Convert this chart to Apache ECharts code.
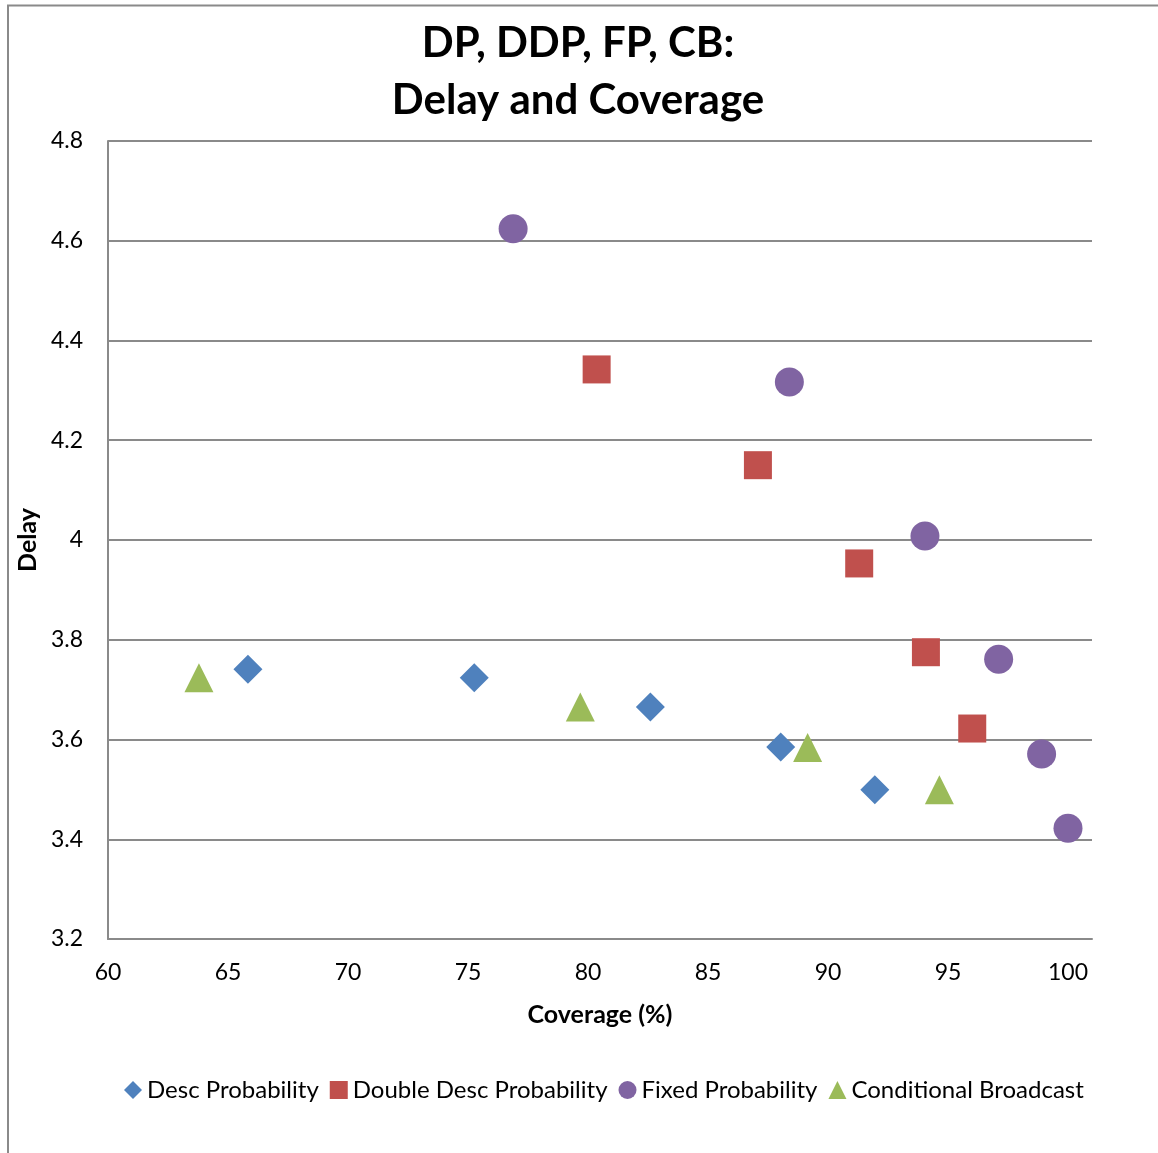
<!DOCTYPE html>
<html>
<head>
<meta charset="utf-8">
<script src="https://cdn.jsdelivr.net/npm/echarts@6/dist/echarts.min.js"></script>
<style>
html,body{margin:0;padding:0;background:#fff;}
#c{width:1158px;height:1153px;}
</style>
</head>
<body>
<div id="c"></div>
<script>
const seriesNames = ['Desc Probability', 'Double Desc Probability', 'Fixed Probability', 'Conditional Broadcast'];
const descX = [65.83, 75.26, 82.6, 88.03, 91.95];
const descY = [3.741, 3.724, 3.665, 3.585, 3.499];
const doubleX = [80.36, 87.08, 91.3, 94.08, 96.01];
const doubleY = [4.342, 4.150, 3.953, 3.775, 3.622];
const fixedX = [76.88, 88.39, 94.04, 97.11, 98.9, 100];
const fixedY = [4.624, 4.317, 4.008, 3.761, 3.571, 3.422];
const condX = [63.79, 79.68, 89.15, 94.64];
const condY = [3.724, 3.665, 3.584, 3.499];
const xTicks = [60, 65, 70, 75, 80, 85, 90, 95, 100];
const yTicks = [3.2, 3.4, 3.6, 3.8, 4, 4.2, 4.4, 4.6, 4.8];

const pair = (xs, ys) => xs.map((x, i) => [x, ys[i]]);
const FONT = 'Lato';
const chart = echarts.init(document.getElementById('c'));
chart.setOption({
  backgroundColor: '#fff',
  animation: false,
  textStyle: {fontFamily: FONT},
  title: {
    text: 'DP, DDP, FP, CB:\nDelay and Coverage',
    left: 573, top: 10, textAlign: 'center',
    textStyle: {fontFamily: FONT, fontWeight: 'bold', fontSize: 42, lineHeight: 57, color: '#000'}
  },
  graphic: [{
    type: 'polyline', silent: true,
    shape: {points: [[8, 1153], [8, 5.5], [1158, 5.5]]},
    style: {stroke: '#8a8a8a', lineWidth: 2, fill: null}
  }],
  legend: {
    bottom: 46, left: 119,
    itemWidth: 18, itemHeight: 18, itemGap: 11,
    textStyle: {fontFamily: FONT, fontSize: 24, color: '#000'},
    data: [
      {name: seriesNames[0], icon: 'diamond'},
      {name: seriesNames[1], icon: 'rect'},
      {name: seriesNames[2], icon: 'circle'},
      {name: seriesNames[3], icon: 'triangle'}
    ]
  },
  grid: {left: 108, top: 141, right: 66, bottom: 214, containLabel: false},
  xAxis: {
    type: 'value', min: 60, max: 101, interval: 5,
    name: 'Coverage (%)', nameLocation: 'middle', nameGap: 63,
    nameTextStyle: {fontFamily: FONT, fontWeight: 'bold', fontSize: 25, color: '#000'},
    axisLine: {show: true, lineStyle: {color: '#8a8a8a', width: 2}},
    axisTick: {show: false},
    splitLine: {show: false},
    axisLabel: {
      fontFamily: FONT, fontSize: 23, color: '#000', margin: 22,
      showMaxLabel: true,
      formatter: v => xTicks.indexOf(v) >= 0 ? String(v) : ''
    }
  },
  yAxis: {
    type: 'value', min: 3.2, max: 4.8, interval: 0.2,
    name: 'Delay', nameLocation: 'middle', nameGap: 66, nameRotate: 90,
    nameTextStyle: {fontFamily: FONT, fontWeight: 'bold', fontSize: 25, color: '#000'},
    axisLine: {show: true, lineStyle: {color: '#8a8a8a', width: 2}},
    axisTick: {show: false},
    splitLine: {show: true, lineStyle: {color: '#8a8a8a', width: 2}},
    axisLabel: {
      fontFamily: FONT, fontSize: 23, color: '#000', margin: 25,
      formatter: v => {
        const t = yTicks.find(k => Math.abs(k - v) < 1e-6);
        return t === undefined ? '' : String(t);
      }
    }
  },
  series: [
    {name: seriesNames[0], type: 'scatter', symbol: 'diamond', symbolSize: 29,
      itemStyle: {color: '#4F81BD', opacity: 1}, data: pair(descX, descY)},
    {name: seriesNames[1], type: 'scatter', symbol: 'rect', symbolSize: 28,
      itemStyle: {color: '#C0504D', opacity: 1}, data: pair(doubleX, doubleY)},
    {name: seriesNames[2], type: 'scatter', symbol: 'circle', symbolSize: 29,
      itemStyle: {color: '#8064A2', opacity: 1}, data: pair(fixedX, fixedY)},
    {name: seriesNames[3], type: 'scatter', symbol: 'triangle', symbolSize: 29,
      itemStyle: {color: '#9BBB59', opacity: 1}, data: pair(condX, condY)}
  ]
});
</script>
</body>
</html>
